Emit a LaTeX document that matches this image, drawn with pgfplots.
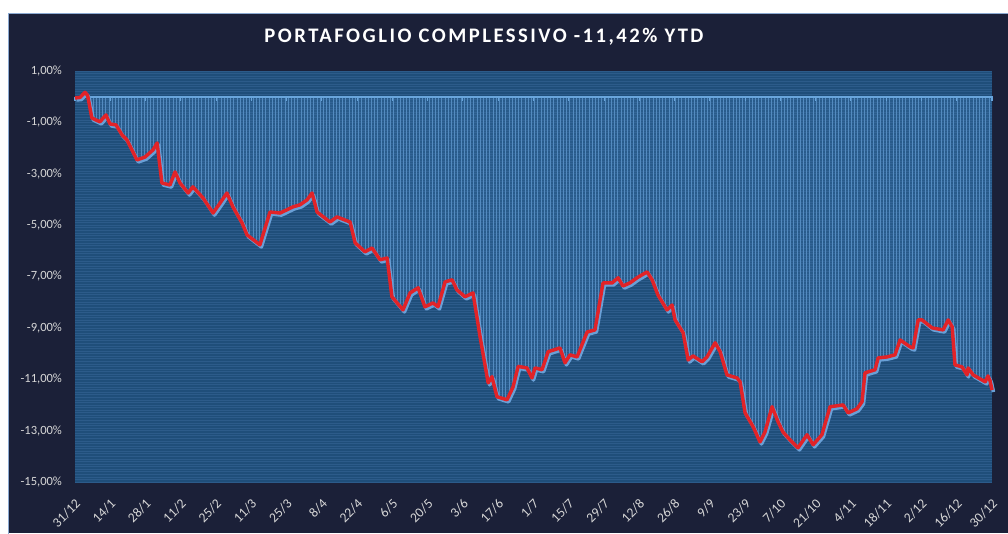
\documentclass[border=0pt]{standalone}
\usepackage{fontspec}
\setmainfont{Carlito}
\newfontfamily\titlefont[LetterSpace=12]{Carlito}
\usepackage{pgfplots}
\pgfplotsset{compat=1.18}
\usepackage{pgfplotstable}
\usetikzlibrary{patterns.meta}

\definecolor{outerbg}{RGB}{27,32,56}
\definecolor{framecol}{RGB}{140,170,210}
\definecolor{plotbg}{RGB}{31,78,122}
\definecolor{stripe}{RGB}{44,91,138}
\definecolor{areablue}{RGB}{70,130,190}
\definecolor{droplines}{RGB}{100,160,215}
\definecolor{zeroline}{RGB}{105,165,220}
\definecolor{redline}{RGB}{225,35,40}
\definecolor{shadowblue}{RGB}{105,160,215}
\definecolor{labelgray}{RGB}{215,215,215}

\pgfplotstableread{
x y
0 -0.05
2 -0.03
4 0.17
5 0.05
6.7 -0.83
9.9 -0.98
12.3 -0.71
13.9 -1.06
16.3 -1.10
18.7 -1.49
20.6 -1.68
24.6 -2.46
27.8 -2.35
31.0 -2.07
32.6 -1.80
34.5 -3.36
37.7 -3.44
39.7 -2.93
41.7 -3.36
44.9 -3.75
46.8 -3.51
50.8 -3.94
54.8 -4.53
57.6 -4.14
60.3 -3.75
62.7 -4.29
66.3 -4.91
68.3 -5.38
73.4 -5.77
77.4 -4.49
81.4 -4.53
86.5 -4.29
89.3 -4.21
92.1 -4.02
94.1 -3.75
96.1 -4.49
101.2 -4.88
104.0 -4.68
109.2 -4.88
111.2 -5.69
115.1 -6.04
117.9 -5.89
121.1 -6.35
123.9 -6.28
125.8 -7.79
130.2 -8.30
133.0 -7.64
136.2 -7.44
138.9 -8.18
142.1 -8.03
144.1 -8.18
146.9 -7.21
149.7 -7.13
151.6 -7.52
154.8 -7.79
158.0 -7.64
160.8 -9.35
164.0 -11.14
165.5 -10.90
167.5 -11.68
171.5 -11.80
173.9 -11.30
175.9 -10.50
179.4 -10.56
181.4 -10.95
182.6 -10.56
185.4 -10.63
187.8 -9.93
192.5 -9.78
194.5 -10.36
196.5 -10.05
199.3 -10.13
203.3 -9.16
206.4 -9.08
209.6 -7.25
213.2 -7.25
215.6 -7.05
217.5 -7.37
220.3 -7.25
223.1 -7.05
227.1 -6.82
229.1 -7.13
231.4 -7.72
235.0 -8.30
237.0 -8.11
238.2 -8.69
241.4 -9.19
243.4 -10.25
245.3 -10.09
248.9 -10.32
250.9 -10.13
254.1 -9.58
256.1 -9.93
258.8 -10.83
262.8 -10.95
264.0 -11.10
266.0 -12.31
269.2 -12.85
271.9 -13.44
273.9 -13.05
276.7 -12.07
279.1 -12.66
281.0 -13.05
283.8 -13.36
287.0 -13.67
290.6 -13.16
293.0 -13.55
296.5 -13.16
299.7 -12.07
304.9 -12.00
306.9 -12.31
310.4 -12.15
312.4 -11.88
313.6 -10.75
317.6 -10.63
318.8 -10.17
322.4 -10.13
325.5 -10.05
327.5 -9.47
331.5 -9.74
332.7 -9.78
334.7 -8.69
336.2 -8.69
340.2 -9.00
344.6 -9.08
346.6 -8.69
348.2 -8.96
349.3 -10.44
352.1 -10.52
354.1 -10.83
354.5 -10.56
356.5 -10.83
361.3 -11.10
362.4 -10.87
363.2 -11.05
364 -11.42
}\portfolio

\begin{document}
\begin{tikzpicture}
% canvas: 1008 x 533 px, 1px = 0.75pt
\useasboundingbox (0,0) rectangle (756pt,399.75pt);
\fill[white] (0,0) rectangle (756pt,399.75pt);
\fill[outerbg] (6pt,0) rectangle (756pt,390pt);
\draw[framecol, line width=0.75pt] (6.3pt,-1pt) -- (6.3pt,389.7pt) -- (757pt,389.7pt);
\node[text=white, font=\titlefont\bfseries\fontsize{15.5}{18}\selectfont] at (363pt,372.2pt) {PORTAFOGLIO COMPLESSIVO -11,42\% YTD};

\begin{axis}[
  at={(56.25pt,38.25pt)}, anchor=south west,
  scale only axis, width=687.75pt, height=308.25pt,
  xmin=0, xmax=364, ymin=-15, ymax=1,
  axis line style={draw=none},
  axis background/.style={fill=plotbg},
  major tick length=0pt, minor tick length=0pt,
  ytick={-15,-13,-11,-9,-7,-5,-3,-1,1},
  yticklabels={{-15,00\%},{-13,00\%},{-11,00\%},{-9,00\%},{-7,00\%},{-5,00\%},{-3,00\%},{-1,00\%},{1,00\%}},
  minor y tick num=19,
  ymajorgrids, yminorgrids,
  major grid style={stripe, line width=0.45pt},
  minor grid style={stripe, line width=0.45pt},
  xtick={0,14,...,364},
  xticklabels={31/12,14/1,28/1,11/2,25/2,11/3,25/3,8/4,22/4,6/5,20/5,3/6,17/6,1/7,15/7,29/7,12/8,26/8,9/9,23/9,7/10,21/10,4/11,18/11,2/12,16/12,30/12},
  yticklabel style={font=\fontsize{9.4}{11}\selectfont, text=labelgray, anchor=east, inner sep=0pt, xshift=-9.6pt},
  xticklabel style={font=\fontsize{10.2}{12}\selectfont, text=labelgray, inner sep=0pt, yshift=-12pt, xshift=-0.5pt, rotate=45, anchor=north east},
  clip=false,
]
% area between zero and the curve
\addplot[draw=none, fill=areablue, fill opacity=0.25] table[x=x,y=y]{\portfolio} \closedcycle;
\addplot[draw=none, pattern={Lines[angle=90,distance=2.4pt,line width=0.45pt]}, pattern color=droplines!75!plotbg] table[x=x,y=y]{\portfolio} \closedcycle;
% zero line and its ticks
\addplot[zeroline, line width=1.5pt] coordinates {(0,0) (364.5,0)};
\addplot[ycomb, zeroline, line width=0.8pt] coordinates {(0,-0.16) (14,-0.16) (28,-0.16) (42,-0.16) (56,-0.16) (70,-0.16) (84,-0.16) (98,-0.16) (112,-0.16) (126,-0.16) (140,-0.16) (154,-0.16) (168,-0.16) (182,-0.16) (196,-0.16) (210,-0.16) (224,-0.16) (238,-0.16) (252,-0.16) (266,-0.16) (280,-0.16) (294,-0.16) (308,-0.16) (322,-0.16) (336,-0.16) (350,-0.16) (364,-0.16)};
% shadow and red line
\addplot[shadowblue, line width=2.7pt, xshift=1.1pt, yshift=-1.5pt, line join=round] table[x=x,y=y]{\portfolio};
\addplot[redline, line width=2.6pt, line join=round] table[x=x,y=y]{\portfolio};
\end{axis}
\end{tikzpicture}
\end{document}
